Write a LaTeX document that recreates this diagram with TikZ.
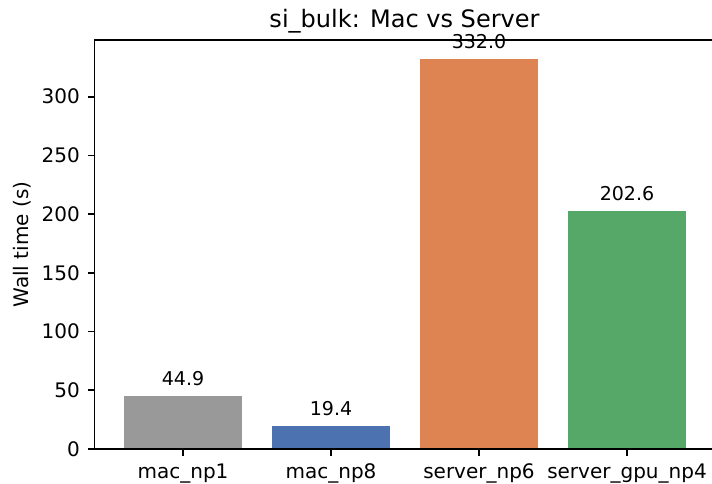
\documentclass[tikz,border=0pt]{standalone}
\usepackage{fontspec}
\setmainfont{DejaVu Sans}
\usetikzlibrary{positioning}
\definecolor{barGray}{HTML}{999999}
\definecolor{barBlue}{HTML}{4C72B0}
\definecolor{barOrange}{HTML}{DD8452}
\definecolor{barGreen}{HTML}{55A868}
\tikzstyle{axis} = [draw=black, line width=1.15pt]
\tikzstyle{ticklabel} = [font=\fontsize{14.4}{17}\selectfont, inner sep=0pt]
\tikzstyle{barlabel} = [font=\fontsize{13.7}{16}\selectfont, inner sep=0pt,
    anchor=base]
\tikzstyle{titlelabel} = [font=\fontsize{17.3}{20}\selectfont, inner sep=0pt,
    anchor=base]

\begin{document}
\begin{tikzpicture}[x=0.72pt, y=-0.72pt]
  \useasboundingbox (0,0) rectangle (712,484);
  % Draw bars
  \fill [barGray] (124,449) rectangle (242,396.27);
  \fill [barBlue] (272,449) rectangle (390,426.22);
  \fill [barOrange] (420,449) rectangle (538,59.13);
  \fill [barGreen] (568,449) rectangle (686,211.09);
  % Place nodes
  \node [barlabel] (npOneVal) at (183,385.8) {44.9};
  \node [barlabel] (npEightVal) at (331,415.7) {19.4};
  \node [barlabel] (srvVal) at (479,48.6) {332.0};
  \node [barlabel] (gpuVal) at (627,200.6) {202.6};
  \node [titlelabel] (title) at (404.5,27) {si\_bulk: Mac vs Server};
  \node [ticklabel, rotate=90] (ylabel) at (22,244.5) {Wall time (s)};
  % Draw axes
  \draw [axis] (712,40) -- (94.5,40) -- (94.5,449) -- (712,449);
  \foreach \v in {0,50,...,300}
    \draw [axis] (94.5,{449-1.1743*\v}) -- ++(-7,0)
      node [ticklabel, anchor=east, xshift=-5pt] (ytick\v) {\v};
  \foreach \x/\name in {183/mac\_np1, 331/mac\_np8, 479/server\_np6,
      627/server\_gpu\_np4}
    \draw [axis] (\x,449) -- ++(0,7)
      node [ticklabel, anchor=north, yshift=-5pt] (xtick\x) {\name};
\end{tikzpicture}
\end{document}
